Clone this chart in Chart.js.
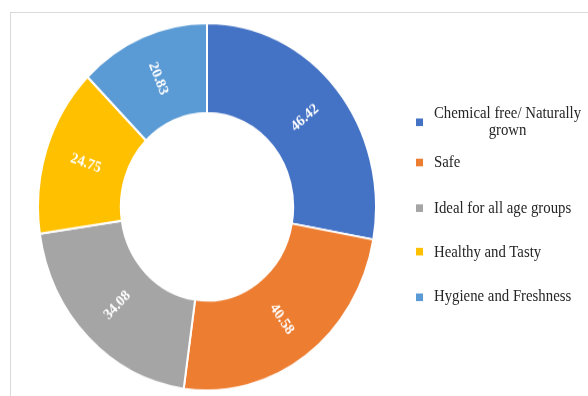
<!DOCTYPE html>
<html><head><meta charset="utf-8">
<script src="https://cdn.jsdelivr.net/npm/chart.js@4.4.0/dist/chart.umd.min.js"></script>
<style>
html,body{margin:0;padding:0;background:#fff;width:588px;height:396px;overflow:hidden;}
#frame{position:absolute;left:10px;top:12px;width:620px;height:420px;border:1px solid #D9D9D9;box-sizing:border-box;}
#chartWrap{position:absolute;left:37px;top:22px;width:340px;height:340px;transform:scaleY(1.087);transform-origin:0 0;}
#legend{position:absolute;left:0;top:0;width:588px;height:364px;transform:scaleY(1.087);transform-origin:0 0;font-family:"Liberation Serif","Times New Roman",serif;font-size:14.8px;color:#262626;}
.item{position:absolute;left:416px;display:flex;align-items:center;line-height:15.6px;}
.box{width:7px;height:7px;margin-right:11px;flex:none;}
.txt{white-space:nowrap;}
</style>
</head><body>
<div id="frame"></div>
<div id="chartWrap"><canvas id="c"></canvas></div>
<div id="legend"></div>
<script>
const categories = ["Chemical free/ Naturally grown","Safe","Ideal for all age groups","Healthy and Tasty","Hygiene and Freshness"];
const legendLines = [["Chemical free/ Naturally","grown"],["Safe"],["Ideal for all age groups"],["Healthy and Tasty"],["Hygiene and Freshness"]];
const values = [46.42,40.58,34.08,24.75,20.83];
const valueLabels = ["46.42","40.58","34.08","24.75","20.83"];
const colors = ["#4472C4","#ED7D31","#A5A5A5","#FFC000","#5B9BD5"];
const legendCenters = [112.2,150,191.4,231.8,273.2];

const sliceLabels = {
  id:'sliceLabels',
  afterDatasetsDraw(chart){
    const ctx = chart.ctx;
    const meta = chart.getDatasetMeta(0);
    meta.data.forEach((arc,i)=>{
      const p = arc.getProps(['x','y','startAngle','endAngle','innerRadius','outerRadius'],true);
      const mid = (p.startAngle+p.endAngle)/2;
      const r = (p.innerRadius+p.outerRadius)/2;
      const x = p.x+Math.cos(mid)*r, y = p.y+Math.sin(mid)*r;
      let rot = mid;
      while(rot>Math.PI) rot -= 2*Math.PI;
      while(rot<=-Math.PI) rot += 2*Math.PI;
      if(rot>Math.PI/2) rot -= Math.PI; else if(rot<-Math.PI/2) rot += Math.PI;
      ctx.save();
      ctx.translate(x,y); ctx.rotate(rot);
      ctx.font = 'bold 14px "Liberation Serif"';
      ctx.fillStyle = '#fff'; ctx.textAlign='center'; ctx.textBaseline='middle';
      ctx.fillText(valueLabels[i],0,0);
      ctx.restore();
    });
  }
};

new Chart(document.getElementById('c'),{
  type:'doughnut',
  data:{labels:categories,datasets:[{data:values,backgroundColor:colors,borderColor:'#ffffff',borderWidth:2}]},
  options:{
    responsive:true,maintainAspectRatio:false,animation:false,cutout:'51%',
    layout:{padding:0},
    plugins:{legend:{display:false},tooltip:{enabled:false}}
  },
  plugins:[sliceLabels]
});

const lg = document.getElementById('legend');
legendLines.forEach((lines,i)=>{
  const it = document.createElement('div');
  it.className='item';
  const h = lines.length*15.6;
  it.style.top = (legendCenters[i]-h/2)+'px';
  const b = document.createElement('div'); b.className='box'; b.style.background=colors[i];
  const t = document.createElement('div'); t.className='txt';
  t.style.textAlign = lines.length>1 ? 'center' : 'left';
  t.innerHTML = lines.join('<br>');
  it.appendChild(b); it.appendChild(t); lg.appendChild(it);
});
</script>
</body></html>
